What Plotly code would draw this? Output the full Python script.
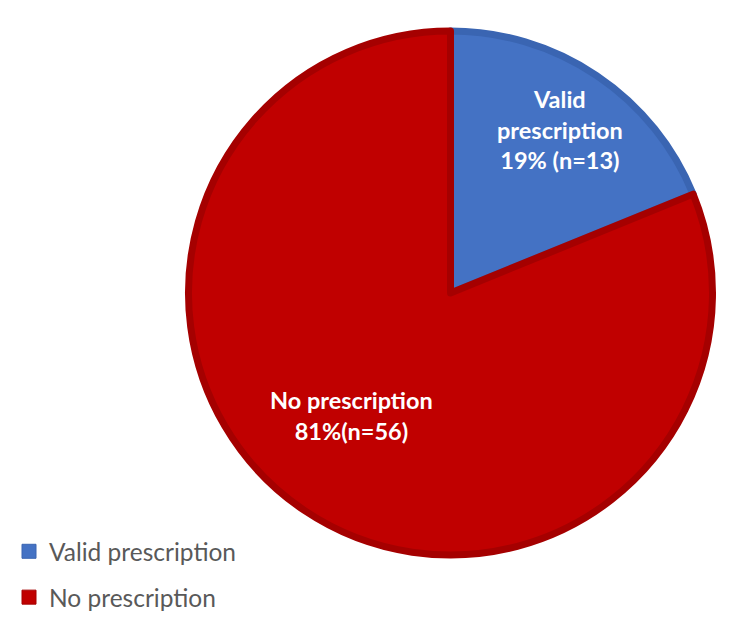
import math
import plotly.graph_objects as go

labels = ["Valid prescription", "No prescription"]
counts = [13, 56]
pct_text = ["Valid<br>prescription<br>19% (n=13)", "No prescription<br>81%(n=56)"]
fill_colors = ["#4472C4", "#C00000"]
border_colors = ["#3A65B2", "#A50000"]

W, H = 750, 620
cx, cy, r = 450.5, 293, 262
# label placement (fraction of radius, angle tweak in degrees)
label_rfrac = [0.75, 0.60]
label_dang = [0.0, 5.0]

fig = go.Figure(go.Pie(
    labels=labels,
    values=counts,
    textinfo="none",
    sort=False,
    direction="clockwise",
    rotation=0,
    marker=dict(colors=fill_colors, line=dict(color=border_colors, width=7)),
    domain=dict(x=[(cx - r) / W, (cx + r) / W], y=[1 - (cy + r) / H, 1 - (cy - r) / H]),
    hoverinfo="label+value+percent",
    showlegend=False,
))

# legend entries (one group each so the spacing matches)
for lab, fc, bc in zip(labels, fill_colors, border_colors):
    fig.add_trace(go.Scatter(
        x=[None], y=[None], mode="markers", name=lab, legendgroup=lab,
        marker=dict(symbol="square", size=14, color=fc, line=dict(color=bc, width=1)),
    ))

total = sum(counts)
cum = 0
for i, (v, t) in enumerate(zip(counts, pct_text)):
    mid = (cum + v / 2) / total * 360 + label_dang[i]
    cum += v
    rad = math.radians(mid)
    px = cx + label_rfrac[i] * r * math.sin(rad)
    py = cy - label_rfrac[i] * r * math.cos(rad)
    fig.add_annotation(
        x=px / W, y=1 - py / H, xref="paper", yref="paper",
        text="<b>" + t + "</b>", showarrow=False, align="center",
        xanchor="center", yanchor="middle",
        font=dict(family="Lato", size=23.5, color="white"),
    )

fig.update_layout(
    width=W, height=H,
    margin=dict(l=0, r=0, t=0, b=0),
    paper_bgcolor="white",
    plot_bgcolor="white",
    xaxis=dict(visible=False),
    yaxis=dict(visible=False),
    showlegend=True,
    legend=dict(x=0.012, y=0.147, xanchor="left", yanchor="top",
                tracegroupgap=11,
                font=dict(family="Lato", size=24.5, color="#595959"),
                bgcolor="rgba(0,0,0,0)"),
)

fig.write_html("out.html")
